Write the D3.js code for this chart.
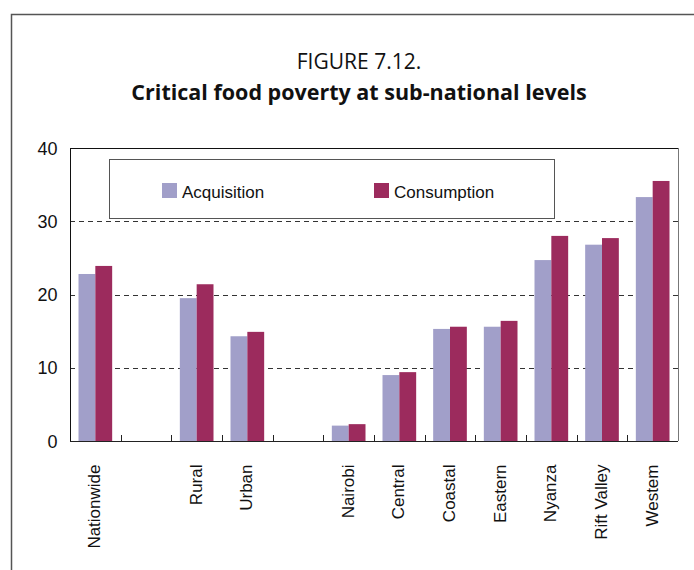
<!DOCTYPE html>
<html>
<head>
<meta charset="utf-8">
<script src="https://cdn.jsdelivr.net/npm/d3@7"></script>
<style>
  html, body { margin: 0; padding: 0; background: #fff; }
  svg { display: block; }
</style>
</head>
<body>
<svg id="chart" width="694" height="570"></svg>
<script>
// Category slots (null = blank spacer slot between groups)
const categories = ["Nationwide", null, "Rural", "Urban", null, "Nairobi", "Central", "Coastal", "Eastern", "Nyanza", "Rift Valley", "Westem"];
const seriesNames = ["Acquisition", "Consumption"];
const acquisition = [22.8, null, 19.5, 14.3, null, 2.1, 9.0, 15.3, 15.6, 24.7, 26.8, 33.3];
const consumption = [23.9, null, 21.4, 14.9, null, 2.3, 9.4, 15.6, 16.4, 28.0, 27.7, 35.5];
const yTicks = [0, 10, 20, 30, 40];
const colors = ["#a19fc9", "#9c2b5d"];

const svg = d3.select("#chart");
const plot = { left: 70, right: 678, top: 148, bottom: 441 };
const labelFont = "'Liberation Sans', Arial, Helvetica, sans-serif";

// Outer figure frame (open to the right and bottom)
svg.append("path")
  .attr("d", "M11.5,570 V14.5 H694")
  .attr("fill", "none")
  .attr("stroke", "#555")
  .attr("stroke-width", 1.5);

// Title
svg.append("text")
  .attr("x", 359).attr("y", 69)
  .attr("text-anchor", "middle")
  .style("font-family", "'Open Sans', sans-serif")
  .style("font-size", "21px")
  .attr("fill", "#111")
  .text("FIGURE 7.12.");
svg.append("text")
  .attr("x", 359).attr("y", 100)
  .attr("text-anchor", "middle")
  .style("font-family", "'Open Sans', sans-serif")
  .style("font-size", "21.5px")
  .style("font-weight", "bold")
  .attr("fill", "#111")
  .text("Critical food poverty at sub-national levels");

// Scales
const x = d3.scaleBand()
  .domain(d3.range(categories.length))
  .range([plot.left, plot.right])
  .padding(0);
const groupPad = 8.5;
const x1 = d3.scaleBand()
  .domain(seriesNames)
  .range([groupPad, x.bandwidth() - groupPad])
  .padding(0);
const y = d3.scaleLinear().domain([0, 40]).range([plot.bottom, plot.top]);

// Dashed gridlines
svg.append("g")
  .selectAll("line")
  .data(yTicks.filter(t => t > 0 && t < 40))
  .join("line")
  .attr("x1", plot.left).attr("x2", plot.right)
  .attr("y1", d => Math.round(y(d)) + 0.5).attr("y2", d => Math.round(y(d)) + 0.5)
  .attr("stroke", "#333")
  .attr("stroke-dasharray", "5,4");

// Plot border: top and right edges
svg.append("line")
  .attr("x1", plot.left).attr("x2", plot.right)
  .attr("y1", plot.top + 0.5).attr("y2", plot.top + 0.5)
  .attr("stroke", "#111");
svg.append("line")
  .attr("x1", plot.right + 0.5).attr("x2", plot.right + 0.5)
  .attr("y1", plot.top).attr("y2", plot.bottom)
  .attr("stroke", "#777");

// Bars
const rows = categories.map((c, i) => ({ i, values: [acquisition[i], consumption[i]] }))
  .filter(r => r.values[0] != null);
const groups = svg.append("g")
  .selectAll("g")
  .data(rows)
  .join("g")
  .attr("transform", d => `translate(${x(d.i)},0)`);
groups.selectAll("rect")
  .data(d => d.values.map((v, k) => ({ key: seriesNames[k], v, k })))
  .join("rect")
  .attr("x", d => x1(d.key))
  .attr("width", x1.bandwidth())
  .attr("y", d => y(d.v))
  .attr("height", d => y(0) - y(d.v))
  .attr("fill", d => colors[d.k]);

// Y axis
const yAxis = svg.append("g")
  .attr("transform", `translate(${plot.left + 0.5},0)`)
  .call(d3.axisLeft(y).tickValues(yTicks).tickSize(0).tickPadding(13));
yAxis.attr("font-family", null).attr("font-size", null);
yAxis.select(".domain").attr("stroke", "#111").attr("d", `M0,${plot.top}V${plot.bottom}`);
yAxis.selectAll("text")
  .style("font-family", labelFont)
  .style("font-size", "18px")
  .attr("fill", "#111")
  .attr("dy", "0.62em")
  .attr("y", -5);

// X axis with category labels rotated vertically
const xAxis = svg.append("g")
  .attr("transform", `translate(0,${plot.bottom + 0.5})`)
  .call(d3.axisBottom(x).tickSize(0).tickFormat(i => categories[i] || ""));
xAxis.attr("font-family", null).attr("font-size", null);
xAxis.select(".domain").attr("stroke", "#222").attr("d", `M${plot.left},0H${plot.right}`);
xAxis.selectAll("text")
  .style("font-family", labelFont)
  .style("font-size", "17px")
  .attr("fill", "#111")
  .attr("text-anchor", "end")
  .attr("transform", "rotate(-90)")
  .attr("x", -23)
  .attr("y", 0)
  .attr("dy", "0.3em");

// Tick marks at slot boundaries, pointing up into the plot
svg.append("g")
  .selectAll("line")
  .data(d3.range(1, categories.length))
  .join("line")
  .attr("x1", i => Math.round(x(i)) + 0.5).attr("x2", i => Math.round(x(i)) + 0.5)
  .attr("y1", plot.bottom - 6).attr("y2", plot.bottom)
  .attr("stroke", "#222");

// Legend
const legend = svg.append("g");
legend.append("rect")
  .attr("x", 109.5).attr("y", 159.5)
  .attr("width", 445).attr("height", 59)
  .attr("fill", "#fff")
  .attr("stroke", "#555");
const legendX = [162, 374];
seriesNames.forEach((name, k) => {
  legend.append("rect")
    .attr("x", legendX[k]).attr("y", 183)
    .attr("width", 15).attr("height", 15)
    .attr("fill", colors[k]);
  legend.append("text")
    .attr("x", legendX[k] + 20).attr("y", 198)
    .style("font-family", labelFont)
    .style("font-size", "17px")
    .attr("fill", "#111")
    .text(name);
});
</script>
</body>
</html>
